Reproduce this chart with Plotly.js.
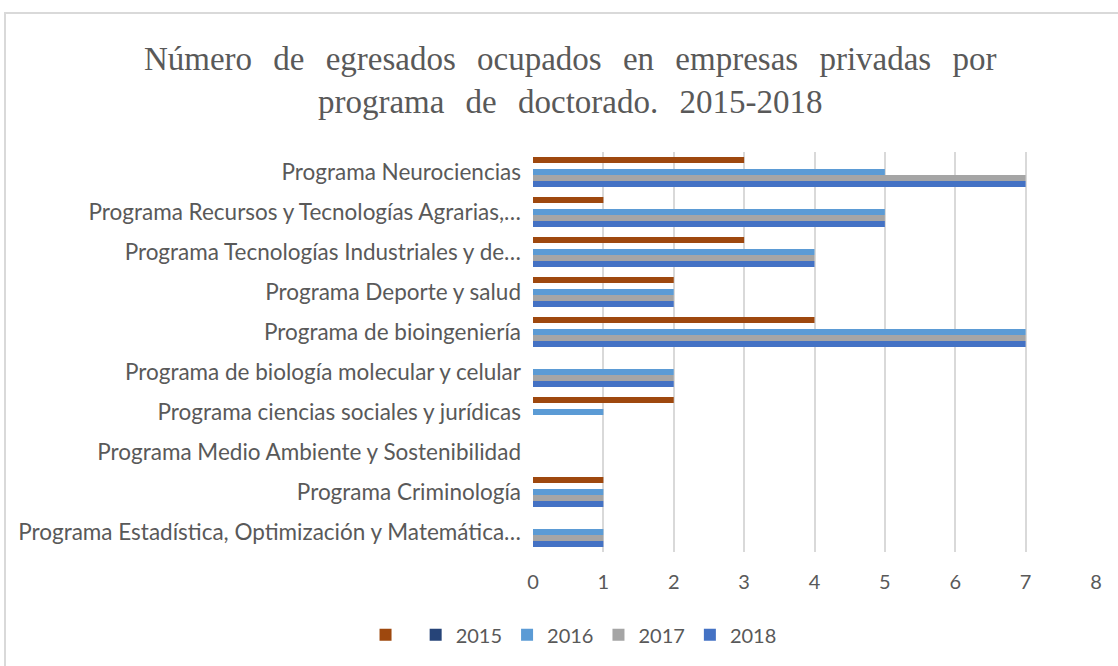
<!DOCTYPE html>
<html>
<head>
<meta charset="utf-8">
<script src="https://cdn.plot.ly/plotly-3.0.1.min.js"></script>
<style>
html,body{margin:0;padding:0;background:#fff;overflow:hidden;}
#frame{position:absolute;left:4px;top:12px;width:1200px;height:700px;border:2px solid #d9d9d9;box-sizing:border-box;}
#chart{position:absolute;left:0;top:0;width:1118px;height:666px;}
.gtitle{word-spacing:13px;}
</style>
</head>
<body>
<div id="frame"></div>
<div id="chart"></div>
<script>
const categories = [
  "Programa Neurociencias",
  "Programa Recursos y Tecnologías Agrarias,…",
  "Programa Tecnologías Industriales y de…",
  "Programa Deporte y salud",
  "Programa de bioingeniería",
  "Programa de biología molecular y celular",
  "Programa ciencias sociales y jurídicas",
  "Programa Medio Ambiente y Sostenibilidad",
  "Programa Criminología",
  "Programa Estadística, Optimización y Matemática…"
];
const seriesNames = ["", "2015", "2016", "2017", "2018"];
const valuesUnnamed = [3, 1, 3, 2, 4, 0, 2, 0, 1, 0];
const values2015 = [0, 0, 0, 0, 0, 0, 0, 0, 0, 0];
const values2016 = [5, 5, 4, 2, 7, 2, 1, 0, 1, 1];
const values2017 = [7, 5, 4, 2, 7, 2, 0, 0, 1, 1];
const values2018 = [7, 5, 4, 2, 7, 2, 0, 0, 1, 1];
const xTicks = [0, 1, 2, 3, 4, 5, 6, 7, 8];
const colors = ["#9E480E", "#264478", "#5B9BD5", "#A5A5A5", "#4472C4"];

const allValues = [valuesUnnamed, values2015, values2016, values2017, values2018];
const traces = allValues.map((v, i) => ({
  type: "bar",
  orientation: "h",
  y: categories,
  x: v,
  name: seriesNames[i] === "" ? " " : seriesNames[i],
  marker: {color: colors[i]},
  hoverinfo: "x+y"
}));

const grey = "#595959";
const sans = "Lato, Open Sans, sans-serif";
const layout = {
  width: 1118, height: 666,
  margin: {l: 533, r: 22, t: 152, b: 114},
  paper_bgcolor: "rgba(0,0,0,0)",
  plot_bgcolor: "rgba(0,0,0,0)",
  barmode: "group",
  bargap: 0.25,
  bargroupgap: 0,
  title: {
    text: "Número de egresados ocupados en empresas privadas por<br>programa de doctorado. 2015-2018",
    font: {family: "Liberation Serif, Times New Roman, serif", size: 33, color: grey},
    x: 0.51, xref: "container", xanchor: "center",
    y: 0.895, yref: "container", yanchor: "top"
  },
  xaxis: {
    range: [0, 8],
    tickvals: xTicks,
    ticktext: xTicks.map(String),
    showgrid: true, gridcolor: "#d9d9d9", gridwidth: 2,
    zeroline: false, showline: false,
    ticks: "", ticklabelstandoff: 16,
    tickfont: {family: sans, size: 20, color: grey},
    fixedrange: true
  },
  yaxis: {
    type: "category",
    autorange: "reversed",
    showgrid: false, zeroline: false, showline: false,
    ticks: "", ticklabelstandoff: 11,
    tickfont: {family: sans, size: 22.5, color: grey},
    fixedrange: true
  },
  legend: {
    orientation: "h",
    x: 0.513, xref: "container", xanchor: "center",
    y: 0.047, yref: "container", yanchor: "middle",
    font: {family: sans, size: 20, color: grey},
    itemwidth: 30
  },
  showlegend: true
};

Plotly.newPlot("chart", traces, layout, {displayModeBar: false, staticPlot: true});
</script>
</body>
</html>
